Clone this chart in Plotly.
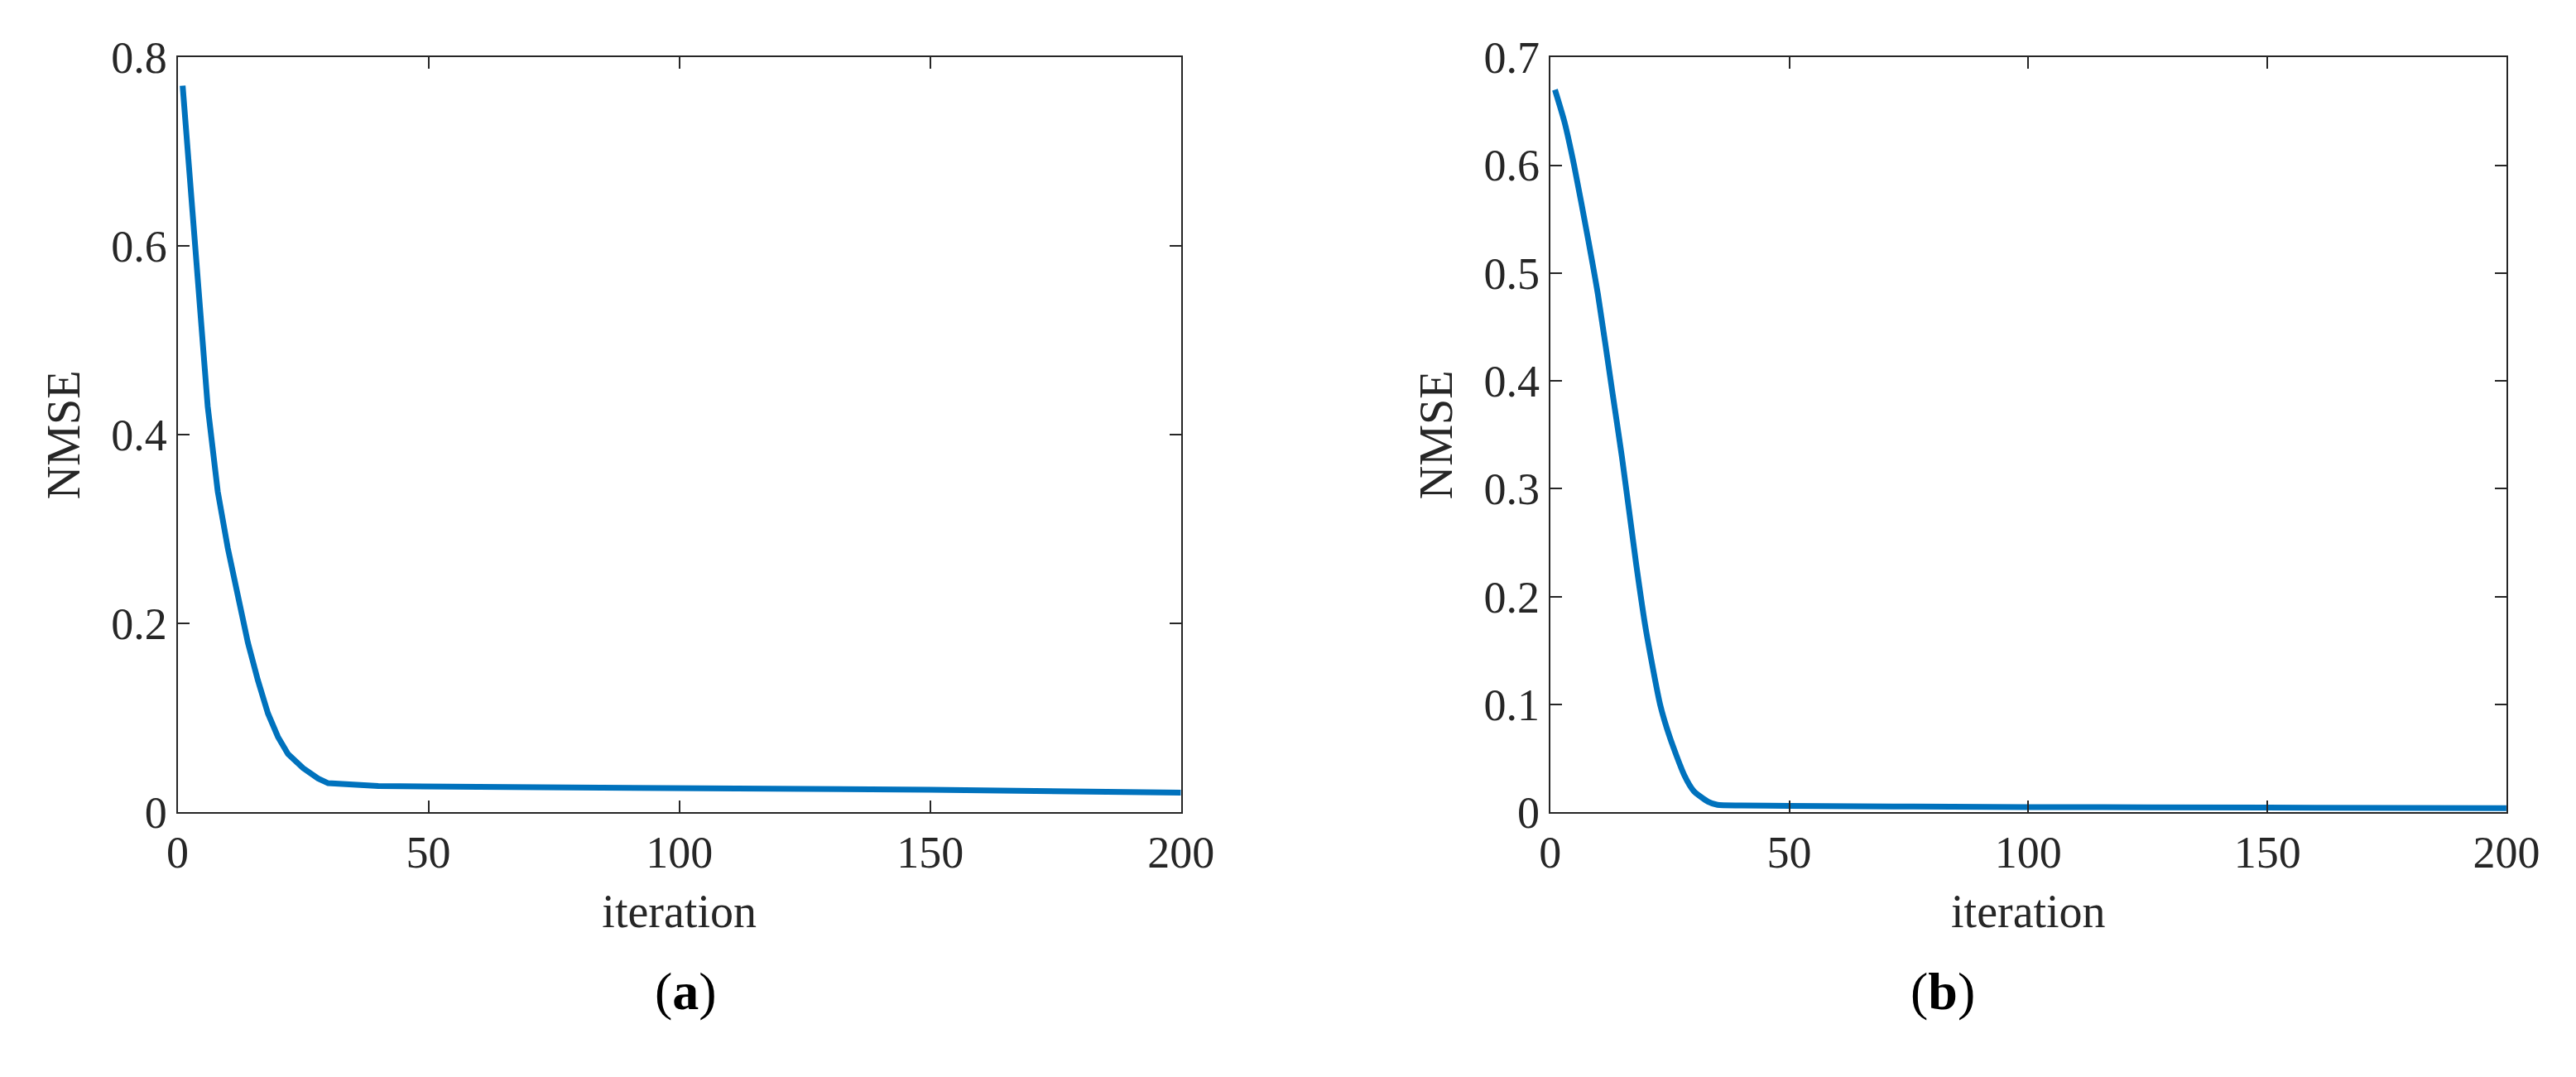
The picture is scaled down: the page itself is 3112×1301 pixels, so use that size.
import plotly.graph_objects as go

xa = [1, 2, 3, 4, 5, 6, 8, 10, 12, 14, 16, 18, 20, 22, 25, 28, 30, 35, 40, 60, 100, 150, 200]
ya = [0.77, 0.70, 0.62, 0.55, 0.49, 0.43, 0.34, 0.28, 0.23, 0.18, 0.14, 0.105, 0.08, 0.062, 0.047, 0.036, 0.031, 0.029, 0.028, 0.027, 0.026, 0.024, 0.021]
xb = [1, 3, 5, 8, 10, 13, 15, 18, 20, 23, 25, 28, 30, 33, 35, 40, 50, 100, 150, 200]
yb = [0.67, 0.64, 0.60, 0.53, 0.48, 0.39, 0.33, 0.23, 0.17, 0.10, 0.07, 0.035, 0.02, 0.01, 0.007, 0.0065, 0.006, 0.005, 0.0045, 0.004]

F = "Liberation Serif"
fig = go.Figure()
fig.add_trace(go.Scatter(x=xa, y=ya, mode="lines", line=dict(color="#0072BD", width=7), xaxis="x", yaxis="y"))
fig.add_trace(go.Scatter(x=xb, y=yb, mode="lines", line=dict(color="#0072BD", width=7, shape="spline", smoothing=0.6), xaxis="x2", yaxis="y2"))

ax = dict(showgrid=False, zeroline=False, showline=True, linecolor="#262626", linewidth=2,
          mirror="ticks", ticks="inside", ticklen=14, tickwidth=2, tickcolor="#262626",
          tickfont=dict(family=F, size=54, color="#262626"))
tf = dict(family=F, size=56, color="#262626")
fig.update_layout(
    width=3112, height=1301, margin=dict(l=0, r=0, t=0, b=0),
    paper_bgcolor="white", plot_bgcolor="white", showlegend=False,
    xaxis=dict(ax, domain=[0.063, 0.4595], range=[0, 200], tickvals=[0, 50, 100, 150, 200],
               title=dict(text="iteration", font=tf, standoff=22), anchor="y"),
    yaxis=dict(ax, domain=[0.239, 0.974], range=[0, 0.8], tickvals=[0, 0.2, 0.4, 0.6, 0.8],
               ticktext=["0", "0.2", "0.4", "0.6", "0.8"],
               title=dict(text="NMSE", font=tf, standoff=20), anchor="x"),
    xaxis2=dict(ax, domain=[0.6054, 0.9833], range=[0, 200], tickvals=[0, 50, 100, 150, 200],
                title=dict(text="iteration", font=tf, standoff=22), anchor="y2"),
    yaxis2=dict(ax, domain=[0.239, 0.974], range=[0, 0.7], tickvals=[0, 0.1, 0.2, 0.3, 0.4, 0.5, 0.6, 0.7],
                ticktext=["0", "0.1", "0.2", "0.3", "0.4", "0.5", "0.6", "0.7"],
                title=dict(text="NMSE", font=tf, standoff=20), anchor="x2"),
    annotations=[
        dict(text="(<b>a</b>)", x=0.251, y=0.035, xref="paper", yref="paper", showarrow=False,
             font=dict(family=F, size=64, color="black")),
        dict(text="(<b>b</b>)", x=0.774, y=0.035, xref="paper", yref="paper", showarrow=False,
             font=dict(family=F, size=64, color="black")),
    ],
)
fig.write_html("out.html")
